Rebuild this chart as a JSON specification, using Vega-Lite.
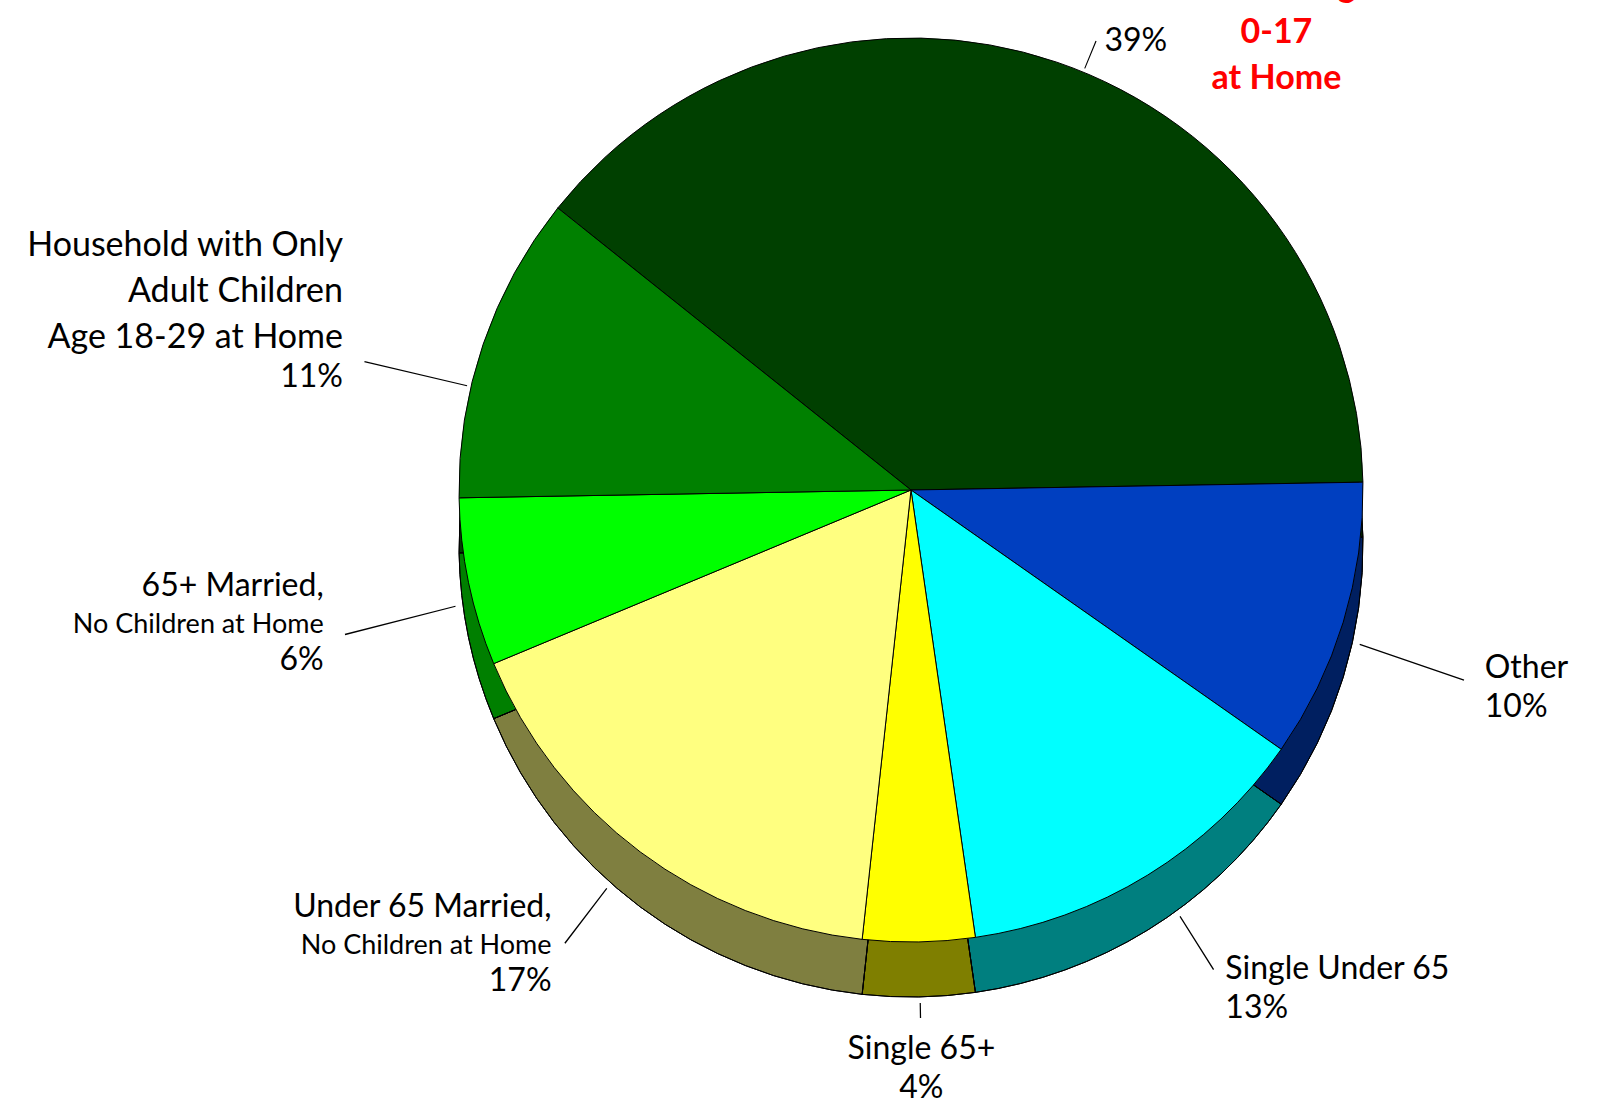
{
  "$schema": "https://vega.github.io/schema/vega-lite/v6.json",
  "width": 1378,
  "height": 980,
  "autosize": {"type": "none"},
  "padding": {"left": 222, "top": 0, "right": 0, "bottom": 128},
  "background": "white",
  "config": {"view": {"stroke": null}, "font": "Lato"},
  "data": {
    "values": [
      {"k": 1, "cat": "Household with Children Age 0-17 at Home", "name": "Children Age\n0-17\nat Home", "sub": "", "pct": "39%", "value": 39},
      {"k": 2, "cat": "Other", "name": "Other", "sub": "", "pct": "10%", "value": 10},
      {"k": 3, "cat": "Single Under 65", "name": "Single Under 65", "sub": "", "pct": "13%", "value": 13},
      {"k": 4, "cat": "Single 65+", "name": "Single 65+", "sub": "", "pct": "4%", "value": 4},
      {"k": 5, "cat": "Under 65 Married, No Children at Home", "name": "Under 65 Married,", "sub": "No Children at Home", "pct": "17%", "value": 17},
      {"k": 6, "cat": "65+ Married, No Children at Home", "name": "65+ Married,", "sub": "No Children at  Home", "pct": "6%", "value": 6},
      {"k": 7, "cat": "Household with Only Adult Children Age 18-29 at Home", "name": "Household with Only\nAdult Children\nAge 18-29 at Home", "sub": "", "pct": "11%", "value": 11}
    ]
  },
  "transform": [
    {"stack": "value", "groupby": [], "sort": [{"field": "k", "order": "ascending"}], "as": ["v0", "v1"]},
    {"calculate": "-0.897 + PI * (datum.v0 + datum.v1) / 100", "as": "ang"},
    {"calculate": "600 * sin(datum.ang)", "as": "lx"},
    {"calculate": "40 - 538 * cos(datum.ang)", "as": "ly"},
    {"calculate": "sqrt(datum.lx * datum.lx + datum.ly * datum.ly)", "as": "lr"},
    {"calculate": "atan2(datum.lx, -datum.ly)", "as": "lt"},
    {"calculate": "datum.lt - 0.0012", "as": "lt1"},
    {"calculate": "datum.lt + 0.0012", "as": "lt2"},
    {"calculate": "456 + max(0, -57 * cos(datum.lt))", "as": "lr1"},
    {"calculate": "abs(datum.lx) < 60 ? datum.lr - 50 : datum.lr - 22", "as": "lr2"}
  ],
  "layer": [
    {
      "mark": {"type": "arc", "radius": 452, "yOffset": 55, "stroke": "black", "strokeWidth": 1},
      "encoding": {
        "theta": {"field": "v0", "type": "quantitative", "scale": {"domain": [0, 100], "range": [-0.897, 5.3862]}},
        "theta2": {"field": "v1"},
        "color": {
          "field": "cat", "type": "nominal", "legend": null,
          "scale": {
            "domain": ["Household with Children Age 0-17 at Home", "Other", "Single Under 65", "Single 65+", "Under 65 Married, No Children at Home", "65+ Married, No Children at Home", "Household with Only Adult Children Age 18-29 at Home"],
            "range": ["#004000", "#003FC0", "#00FFFF", "#FFFF00", "#FFFF80", "#00FF00", "#008000"]
          }
        }
      }
    },
    {
      "mark": {"type": "arc", "radius": 452, "yOffset": 55, "fill": "black", "fillOpacity": 0.5, "stroke": "black", "strokeWidth": 1},
      "encoding": {
        "theta": {"field": "v0", "type": "quantitative", "scale": {"domain": [0, 100], "range": [-0.897, 5.3862]}},
        "theta2": {"field": "v1"}
      }
    },
    {
      "mark": {"type": "arc", "radius": 452, "stroke": "black", "strokeWidth": 1},
      "encoding": {
        "theta": {"field": "v0", "type": "quantitative", "scale": {"domain": [0, 100], "range": [-0.897, 5.3862]}},
        "theta2": {"field": "v1"},
        "color": {"field": "cat", "type": "nominal", "legend": null}
      }
    },
    {
      "mark": {"type": "arc", "fill": "black"},
      "encoding": {
        "theta": {"field": "lt1", "type": "quantitative", "scale": null},
        "theta2": {"field": "lt2"},
        "radius": {"field": "lr1", "type": "quantitative", "scale": null},
        "radius2": {"field": "lr2"}
      }
    },
    {
      "mark": {"type": "text", "fontSize": 32, "baseline": "top", "dy": 5, "color": "black",
        "align": {"expr": "datum.lx > 60 ? 'left' : (datum.lx < -60 ? 'right' : 'center')"}},
      "encoding": {
        "theta": {"field": "lt", "type": "quantitative", "scale": null, "stack": null},
        "radius": {"field": "lr", "type": "quantitative", "scale": null},
        "text": {"field": "pct"}
      }
    },
    {
      "transform": [{"filter": "datum.sub != ''"}],
      "mark": {"type": "text", "fontSize": 27, "baseline": "bottom", "dy": -1, "color": "black",
        "align": {"expr": "datum.lx > 60 ? 'left' : (datum.lx < -60 ? 'right' : 'center')"}},
      "encoding": {
        "theta": {"field": "lt", "type": "quantitative", "scale": null, "stack": null},
        "radius": {"field": "lr", "type": "quantitative", "scale": null},
        "text": {"field": "sub"}
      }
    },
    {
      "transform": [{"filter": "datum.k != 1"}],
      "mark": {"type": "text", "baseline": "bottom", "color": "black", "lineBreak": "\n",
        "lineHeight": {"expr": "datum.k == 7 ? 46 : 40"},
        "dy": {"expr": "-(datum.sub != '' ? 37 : 2) - (length(split(datum.name, '\\n')) - 1) * (datum.k == 7 ? 46 : 40)"},
        "align": {"expr": "datum.lx > 60 ? 'left' : (datum.lx < -60 ? 'right' : 'center')"}},
      "encoding": {
        "theta": {"field": "lt", "type": "quantitative", "scale": null, "stack": null},
        "radius": {"field": "lr", "type": "quantitative", "scale": null},
        "text": {"field": "name"},
        "size": {"condition": {"test": "datum.k == 7", "value": 34}, "value": 32}
      }
    },
    {
      "transform": [{"filter": "datum.k == 1"}],
      "mark": {"type": "text", "baseline": "bottom", "align": "center", "dx": 172, "dy": -17, "color": "#FF0000",
        "fontWeight": "bold", "fontSize": 34, "lineBreak": "\n", "lineHeight": 46},
      "encoding": {
        "theta": {"field": "lt", "type": "quantitative", "scale": null, "stack": null},
        "radius": {"field": "lr", "type": "quantitative", "scale": null},
        "text": {"field": "name"}
      }
    }
  ]
}
